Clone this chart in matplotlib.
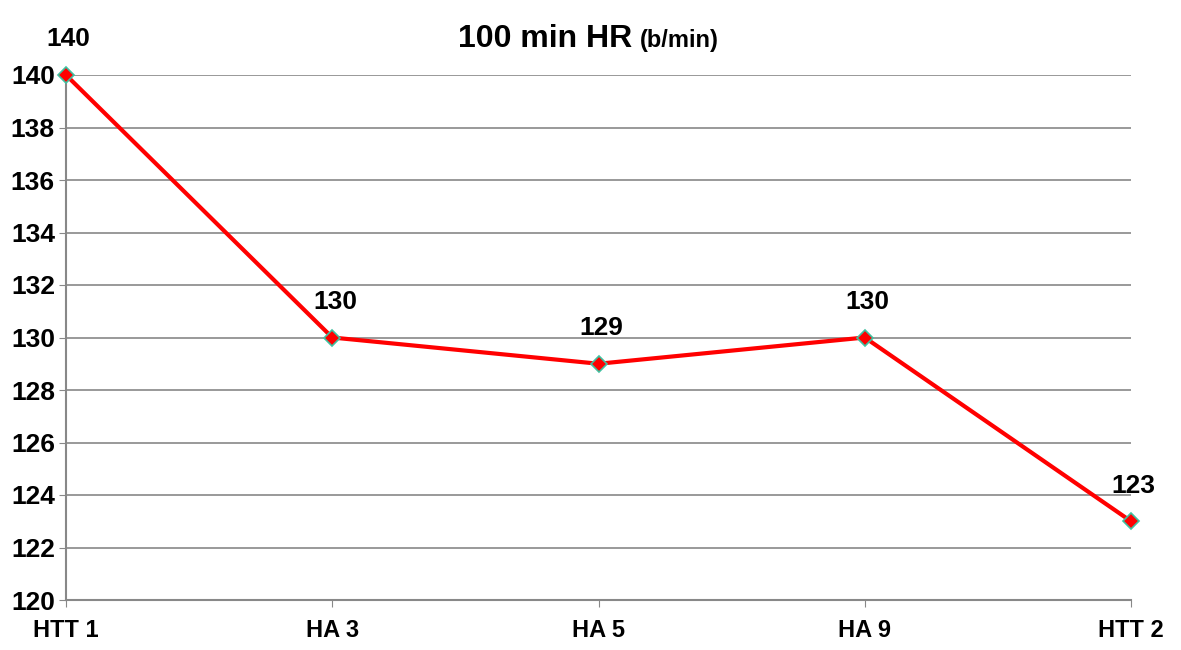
import matplotlib
matplotlib.use("Agg")
import matplotlib.pyplot as plt

categories = ["HTT 1", "HA 3", "HA 5", "HA 9", "HTT 2"]
hr_values = [140, 130, 129, 130, 123]
y_ticks = list(range(120, 141, 2))

plt.rcParams['font.family'] = ['Liberation Sans', 'DejaVu Sans']

fig = plt.figure(figsize=(11.81, 6.5), dpi=100)
ax = fig.add_axes([66 / 1181, 50 / 650, (1131 - 66) / 1181, (600 - 75) / 650])

x = list(range(len(categories)))
ax.plot(x, hr_values, color="#ff0000", lw=3, marker="D", markersize=8,
        markerfacecolor="#ff0000", markeredgecolor="#40c0a0", markeredgewidth=1.2,
        zorder=3, clip_on=False)

for xi, v in zip(x, hr_values):
    ax.annotate(str(v), (xi, v), xytext=(2, 17), textcoords="offset points",
                ha="center", va="bottom", fontsize=19, fontweight="bold")

ax.set_xlim(0, len(categories) - 1)
ax.set_ylim(120, 140)
ax.set_yticks(y_ticks)
ax.set_yticklabels([str(t) for t in y_ticks], fontsize=19, fontweight="bold")
ax.set_xticks(x)
ax.set_xticklabels(categories, fontsize=17, fontweight="bold")

ax.yaxis.grid(True, color="#888888", lw=1.2)
ax.set_axisbelow(True)
for s in ["top", "right"]:
    ax.spines[s].set_visible(False)
for s in ["left", "bottom"]:
    ax.spines[s].set_color("#888888")
    ax.spines[s].set_linewidth(1.5)
ax.tick_params(axis="y", length=5, color="#888888", pad=3)
ax.tick_params(axis="x", length=5, color="#888888", pad=9)

fig.text(0.535, 0.94, "100 min HR", ha="right", va="center", fontsize=23, fontweight="bold")
fig.text(0.542, 0.937, "(b/min)", ha="left", va="center", fontsize=17, fontweight="bold")

fig.savefig("out.png", dpi=100)
